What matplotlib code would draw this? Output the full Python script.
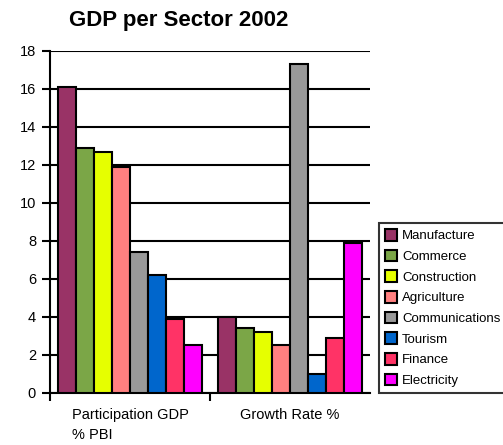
import numpy as np
import matplotlib.pyplot as plt

plt.rcParams['font.family'] = ['Liberation Sans', 'DejaVu Sans']

categories = ['Participation GDP\n% PBI', 'Growth Rate %']
sectors = ['Manufacture', 'Commerce', 'Construction', 'Agriculture',
           'Communications', 'Tourism', 'Finance', 'Electricity']
participation = [16.1, 12.9, 12.7, 11.9, 7.4, 6.2, 3.9, 2.5]
growth = [4.0, 3.4, 3.2, 2.5, 17.3, 1.0, 2.9, 7.9]
colors = ['#993366', '#7BA647', '#E6FF00', '#FF8080',
          '#999999', '#0066CC', '#FF3366', '#FF00FF']

fig = plt.figure(figsize=(5.03, 4.45), dpi=100)
ax = fig.add_axes([0.0994, 0.1169, 0.636, 0.7685])

n = len(sectors)
w = 0.9 / n
x = np.arange(len(categories))
handles = []
for i in range(n):
    vals = [participation[i], growth[i]]
    pos = x - 0.45 + w * (i + 0.5)
    b = ax.bar(pos, vals, width=w, color=colors[i], edgecolor='black',
               linewidth=1.5, zorder=3, label=sectors[i])
    handles.append(b)

ax.set_xlim(-0.5, 1.5)
ax.set_ylim(0, 18)
ax.set_yticks(np.arange(0, 19, 2))
ax.yaxis.grid(True, color='black', linewidth=1.5, zorder=0)
ax.set_axisbelow(True)
for s in ['top', 'right']:
    ax.spines[s].set_visible(False)
for s in ['left', 'bottom']:
    ax.spines[s].set_linewidth(1.5)
ax.tick_params(axis='y', length=6, width=1.5, labelsize=10.5, pad=4)

ax.set_xticks([-0.5, 0.5])
ax.set_xticklabels([])
ax.tick_params(axis='x', length=6, width=1.5)
for xi, lab in zip(x, categories):
    ax.text(xi, -0.045, lab, transform=ax.get_xaxis_transform(), ha='center',
            va='top', multialignment='left', fontsize=10.5, linespacing=1.55)

fig.text(0.355, 0.953, 'GDP per Sector 2002', ha='center', va='center',
         fontsize=16, fontweight='bold')

leg = fig.legend(handles=handles, labels=sectors, loc='lower left',
                 bbox_to_anchor=(0.7535, 0.1169), fontsize=9.5,
                 frameon=True, fancybox=False, edgecolor='black',
                 handlelength=0.9, handleheight=1.0, handletextpad=0.4,
                 labelspacing=0.55, borderpad=0.45, borderaxespad=0)
leg.get_frame().set_linewidth(1.5)

fig.savefig('out.png', dpi=100)
